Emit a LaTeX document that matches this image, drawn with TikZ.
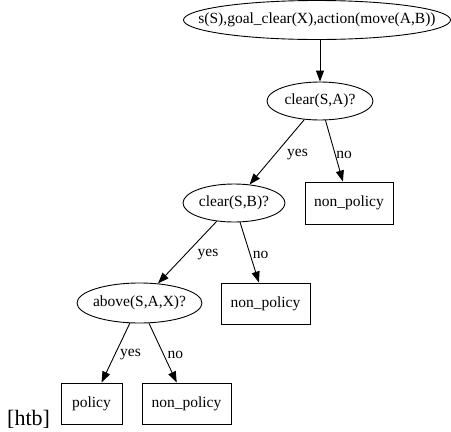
\documentclass[tikz,border=0pt]{standalone}
\usepackage{fontspec}
\setmainfont{Liberation Serif}
\usetikzlibrary{arrows.meta,shapes.geometric}
% text that does not widen its ellipse: the size comes from minimum width
\newcommand\zerowide[1]{\makebox[0pt]{#1}}
\begin{document}
\begin{tikzpicture}[x=1pt,y=-1pt,
  every node/.style={font=\fontsize{15.5}{18}\selectfont, inner sep=0pt},
  test/.style={draw, ellipse, line width=0.9pt, minimum height=38pt},
  leaf/.style={draw, rectangle, line width=0.9pt, minimum height=41pt},
  lbl/.style={},
  edge/.style={line width=0.9pt, -{Triangle[length=11pt,width=8pt]}}]
  \useasboundingbox (0,0) rectangle (451,432);

  % decision nodes
  \node[test, minimum width=267pt, minimum height=39pt] (top) at (317,20) {\zerowide{s(S),goal\_clear(X),action(move(A,B))}};
  \node[test, minimum width=106pt] (clearA) at (320,101) {\zerowide{clear(S,A)?}};
  \node[test, minimum width=102pt] (clearB) at (234,203) {\zerowide{clear(S,B)?}};
  \node[test, minimum width=125pt, minimum height=40pt] (above) at (139.5,303) {\zerowide{above(S,A,X)?}};

  % leaves
  \node[leaf, minimum width=88pt, minimum height=42pt] (np1) at (349,203) {non\_policy};
  \node[leaf, minimum width=89pt] (np2) at (265.5,303.5) {non\_policy};
  \node[leaf, minimum width=61pt] (pol) at (91.5,403.5) {policy};
  \node[leaf, minimum width=89pt] (np3) at (186.5,403.5) {non\_policy};

  % connectors
  \draw[edge] (top.south -| clearA.north) -- (clearA);
  \draw[edge] (clearA) -- (clearB);
  \draw[edge] (clearA) -- (np1);
  \draw[edge] (clearB) -- (above);
  \draw[edge] (clearB) -- (np2);
  \draw[edge] (above) -- (pol);
  \draw[edge] (above) -- (np3);

  % edge labels
  \node[lbl] (y1) at (297.5,155) {yes};
  \node[lbl] (n1) at (344,155) {no};
  \node[lbl] (y2) at (208,255) {yes};
  \node[lbl] (n2) at (260.5,255) {no};
  \node[lbl] (y3) at (130.5,355) {yes};
  \node[lbl] (n3) at (175.5,355) {no};

  % float placement text
  \node[font=\fontsize{22}{26}\selectfont, anchor=base west] (htb) at (7,425) {[htb]};
\end{tikzpicture}
\end{document}
